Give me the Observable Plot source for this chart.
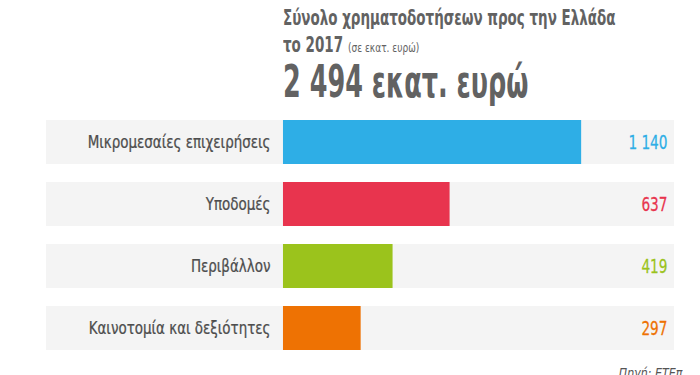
<!DOCTYPE html>
<html><head><meta charset="utf-8">
<script src="https://cdn.jsdelivr.net/npm/d3@7"></script>
<script src="https://cdn.jsdelivr.net/npm/@observablehq/plot@0.6"></script>
<style>
body{margin:0;background:#fff;width:700px;height:375px;overflow:hidden;position:relative;font-family:"DejaVu Sans Condensed","DejaVu Sans",sans-serif;color:#626262}
#head{height:110px;position:relative}
#head div{position:absolute;left:283px;white-space:nowrap;line-height:1;transform-origin:0 0}
#t1{top:8px;font-size:20.5px;font-weight:bold;transform:scaleX(0.73)}
#t2{top:35px;font-size:20.5px;font-weight:bold;transform:scaleX(0.73)}
#t2 span{font-size:12.5px;font-weight:normal;display:inline-block;transform:scaleX(1.1);transform-origin:0 0}
#t3{top:60px;font-size:44px;font-weight:bold;transform:scaleX(0.645)}
#src{position:absolute;right:18px;top:365px;font-size:14px;font-style:italic;color:#555;transform:scaleX(0.88);transform-origin:100% 0}
</style></head>
<body>
<div id="head">
<div id="t1">Σύνολο χρηματοδοτήσεων προς την Ελλάδα</div>
<div id="t2">το 2017 <span>(σε εκατ. ευρώ)</span></div>
<div id="t3">2 494 εκατ. ευρώ</div>
</div>
<div id="chart"></div>
<div id="src">Πηγή: ΕΤΕπ</div>
<script>
const categories = ["Μικρομεσαίες επιχειρήσεις","Υποδομές","Περιβάλλον","Καινοτομία και δεξιότητες"];
const values = [1140, 637, 419, 297];
const colors = ["#2eaee6","#e8344e","#9bc31c","#ee7203"];
const xExtent = [-906, 1495];

const data = categories.map((c, i) => ({category: c, value: values[i], color: colors[i]}));
const fmt = d3.formatLocale({decimal: ",", thousands: " ", grouping: [3], currency: ["", "€"]}).format(",");

const chart = Plot.plot({
  width: 700, height: 265, margin: 0,
  style: {fontFamily: '"DejaVu Sans Condensed","DejaVu Sans",sans-serif', background: "transparent"},
  x: {domain: xExtent, range: [46, 674], axis: null},
  y: {domain: categories, range: [9, 240.5], paddingInner: 0.296, paddingOuter: 0, axis: null},
  color: {type: "identity"},
  marks: [
    Plot.barX(data, {y: "category", x1: xExtent[0], x2: xExtent[1], fill: "#f4f4f4"}),
    Plot.barX(data, {y: "category", x1: 0, x2: "value", fill: d => d.color}),
    Plot.text(data, {y: "category", x: 0, dx: -13, text: "category", textAnchor: "end", fontSize: 17, fill: "#4d4d4d", stroke: "#4d4d4d", strokeWidth: 0.25}),
    Plot.text(data, {y: "category", x: xExtent[1], dx: -7, text: d => fmt(d.value), textAnchor: "end", fontSize: 19, fill: d => d.color, stroke: d => d.color, strokeWidth: 0.25})
  ]
});
// horizontally condense the label glyphs around their anchor points
chart.querySelectorAll("text").forEach(t => {
  const s = categories.includes(t.textContent) ? 0.88 : 0.8;
  const tr = t.getAttribute("transform") || "";
  t.setAttribute("transform", `${tr} scale(${s},1)`);
});
document.getElementById("chart").appendChild(chart);
</script>
</body></html>
